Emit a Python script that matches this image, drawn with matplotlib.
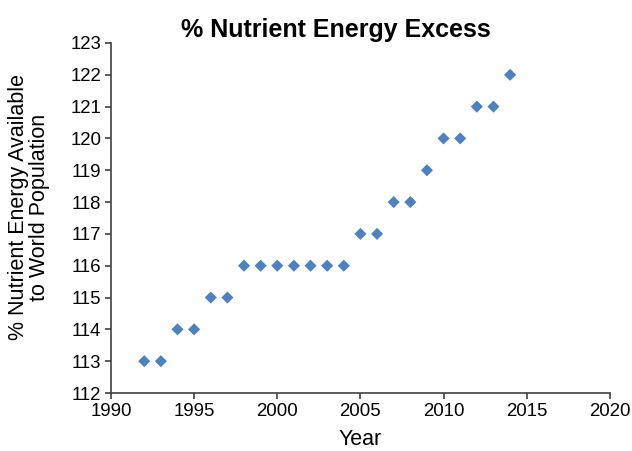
import matplotlib
matplotlib.use("Agg")
import matplotlib.pyplot as plt

# datos
anios = [1992, 1993, 1994, 1995, 1996, 1997, 1998, 1999, 2000, 2001, 2002, 2003,
         2004, 2005, 2006, 2007, 2008, 2009, 2010, 2011, 2012, 2013, 2014]
exceso = [113, 113, 114, 114, 115, 115, 116, 116, 116, 116, 116, 116,
          116, 117, 117, 118, 118, 119, 120, 120, 121, 121, 122]

plt.rcParams['font.family'] = ['Liberation Sans', 'DejaVu Sans']

fig = plt.figure(figsize=(6.32, 4.51), dpi=100)
ax = fig.add_axes([0.1756, 0.1286, 0.7894, 0.7761])

ax.scatter(anios, exceso, marker='D', s=38, color='#4F81BD', edgecolors='none', zorder=3)

ax.set_xlim(1990, 2020)
ax.set_ylim(112, 123)
ax.set_xticks(range(1990, 2021, 5))
ax.set_yticks(range(112, 124))

for lado in ['top', 'right']:
    ax.spines[lado].set_visible(False)
for lado in ['left', 'bottom']:
    ax.spines[lado].set_color('#404040')
    ax.spines[lado].set_linewidth(1.2)
ax.tick_params(direction='out', length=4, width=1.2, color='#404040', labelsize=13.4, pad=3)

# titulo centrado un poco a la izquierda del eje, como en el original
fig.text(336 / 632, 1 - 30 / 451, '% Nutrient Energy Excess', fontsize=18,
         fontweight='bold', ha='center', va='center')
ax.set_xlabel('Year', fontsize=15.5, labelpad=7)
ax.set_ylabel('% Nutrient Energy Available\nto World Population', fontsize=15.5,
              linespacing=1.0)
ax.yaxis.set_label_coords(-0.122, 0.531)

fig.savefig('out.png', dpi=100)
